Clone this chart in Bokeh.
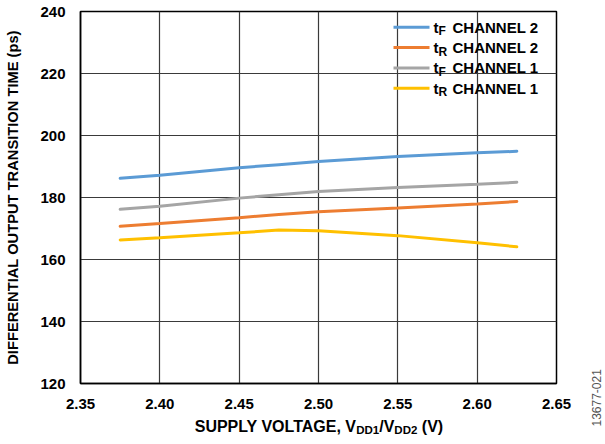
import math
from bokeh.plotting import figure
from bokeh.layouts import row, column
from bokeh.core.properties import value
from bokeh.models import Label, Range1d, FixedTicker, NumeralTickFormatter
from bokeh.embed import file_html
from bokeh.resources import INLINE

# ---------------- data ----------------
voltage = [2.375, 2.40, 2.45, 2.475, 2.50, 2.55, 2.60, 2.625]
tf_ch2 = [186.2, 187.2, 189.6, 190.6, 191.6, 193.2, 194.4, 194.9]
tr_ch2 = [170.7, 171.6, 173.5, 174.5, 175.4, 176.6, 177.9, 178.7]
tf_ch1 = [176.2, 177.2, 179.8, 180.9, 181.9, 183.2, 184.3, 184.9]
tr_ch1 = [166.3, 167.0, 168.6, 169.5, 169.3, 167.7, 165.4, 164.1]

x_ticks = [2.35, 2.40, 2.45, 2.50, 2.55, 2.60, 2.65]
y_ticks = [120, 140, 160, 180, 200, 220, 240]

series = [
    ("F", "CHANNEL 2", tf_ch2, "#5B9BD5"),
    ("R", "CHANNEL 2", tr_ch2, "#ED7D31"),
    ("F", "CHANNEL 1", tf_ch1, "#A5A5A5"),
    ("R", "CHANNEL 1", tr_ch1, "#FFC000"),
]

FONT = "Liberation Sans"
MAIN = 15
SUB = 12

# page geometry
PW, PH = 605, 444
SIDE_W = 17            # strip on the right for the figure id
STRIP_H = 32           # strip below for the x-axis title
MW, MH = PW - SIDE_W, PH - STRIP_H
FL, FR, FT, FB = 80, 556, 11, 383
X0, X1, Y0, Y1 = 2.35, 2.65, 120, 240


def px_x(px):
    return X0 + (px - FL) / (FR - FL) * (X1 - X0)


def px_y(py):
    return Y1 - (py - FT) / (FB - FT) * (Y1 - Y0)


# Arial/Liberation Sans Bold advance widths (em)
W = {"S": .667, "U": .722, "P": .667, "L": .611, "Y": .667, " ": .278, "V": .667,
     "O": .778, "T": .611, "A": .722, "G": .778, "E": .667, ",": .278, "D": .722,
     "1": .556, "2": .556, "/": .278, "(": .333, ")": .333}


def tw(s, size):
    return sum(W.get(c, .6) for c in s) * size


# ---------------- main chart ----------------
p = figure(width=MW, height=MH, output_backend="svg", toolbar_location=None,
           x_range=Range1d(X0, X1), y_range=Range1d(Y0, Y1),
           min_border_left=FL, min_border_right=MW - FR,
           min_border_top=FT, min_border_bottom=MH - FB)
p.background_fill_color = "white"
p.border_fill_color = "white"
p.outline_line_color = "black"
p.outline_line_width = 1.5

for ax in (p.xaxis[0], p.yaxis[0]):
    ax.major_tick_line_color = None
    ax.minor_tick_line_color = None
    ax.axis_line_color = "black"
    ax.axis_line_width = 1.5
    ax.major_label_text_font = FONT
    ax.major_label_text_font_style = "bold"
    ax.major_label_text_font_size = f"{MAIN}px"
    ax.major_label_text_color = "black"

p.xaxis.ticker = FixedTicker(ticks=x_ticks)
p.xaxis.formatter = NumeralTickFormatter(format="0.00")
p.xaxis.major_label_standoff = 9
p.yaxis.ticker = FixedTicker(ticks=y_ticks)
p.yaxis.major_label_standoff = 9

p.yaxis.axis_label = "DIFFERENTIAL OUTPUT TRANSITION TIME (ps)"
p.yaxis.axis_label_text_font = FONT
p.yaxis.axis_label_text_font_style = "bold"
p.yaxis.axis_label_text_font_size = "14.7px"
p.yaxis.axis_label_text_color = "black"
p.yaxis.axis_label_standoff = 16

p.xgrid.ticker = FixedTicker(ticks=x_ticks)
p.ygrid.ticker = FixedTicker(ticks=y_ticks)
for g in (p.xgrid[0], p.ygrid[0]):
    g.grid_line_color = "#3a3a3a"
    g.grid_line_width = 1.2

for sub, name, vals, col in series:
    p.line(voltage, vals, line_color=col, line_width=3, line_cap="round")


def add_text(px, py, text, size, dy=0):
    p.add_layout(Label(x=px_x(px), y=px_y(py), y_offset=dy, text=text,
                       text_font=FONT, text_font_style="bold",
                       text_font_size=f"{size}px", text_baseline="middle",
                       text_align="left", text_color="black"))


# legend (manual, for subscripts)
rows_py = [26.8, 47.1, 67.4, 87.7]
for (sub, name, vals, col), py in zip(series, rows_py):
    yy = px_y(py)
    p.segment(x0=[px_x(393)], y0=[yy], x1=[px_x(429)], y1=[yy],
              line_color=col, line_width=3)
    add_text(433, py, "t", MAIN)
    add_text(438, py, sub, SUB, dy=-4)
    add_text(452, py, name, MAIN)


def blank_fig(w, h, xr, yr):
    f = figure(width=w, height=h, output_backend="svg", toolbar_location=None,
               x_range=xr, y_range=yr,
               x_axis_type=None, y_axis_type=None, min_border=0)
    f.outline_line_color = None
    f.grid.visible = False
    f.background_fill_color = "white"
    f.border_fill_color = "white"
    return f


# ---------------- x-axis title strip (subscripts) ----------------
# the column aligns this strip's frame with the chart frame, so it shares the x range
TMAIN, TSUB = 16, 11.5
first = "SUPPLY VOLTAGE, V"
rest = [("DD1", TSUB, True, 0), ("/V", TMAIN, False, 0),
        ("DD2", TSUB, True, 0), ("(V)", TMAIN, False, tw(" ", TMAIN))]
total = tw(first, TMAIN) + sum(tw(t, s) + gap for t, s, _, gap in rest)
anchor = 316.5 - total / 2 + tw(first, TMAIN)
strip = blank_fig(MW, STRIP_H, Range1d(X0, X1), Range1d(0, STRIP_H))


def strip_text(xp, t, size, is_sub, align):
    yc = PH - (429.5 if is_sub else 425.8)
    strip.text(x=[px_x(xp)], y=[yc], text=[t], text_font=value(FONT),
               text_font_style="bold", text_font_size=value(f"{size}px"),
               text_align=align, text_baseline="middle", text_color="black")


strip_text(anchor, first, TMAIN, False, "right")
xpos = anchor
for t, s, is_sub, gap in rest:
    xpos += gap
    strip_text(xpos, t, s, is_sub, "left")
    xpos += tw(t, s)

# ---------------- figure id strip ----------------
side = blank_fig(SIDE_W, PH, Range1d(0, SIDE_W), Range1d(0, PH))
side.text(x=[596 - MW], y=[PH - 426], text=["13677-021"], angle=math.pi / 2,
          text_font=value(FONT), text_font_size=value("12px"),
          text_align="left", text_baseline="middle", text_color="#555555")

layout = row(column(p, strip, spacing=0), side, spacing=0)
open("out.html", "w").write(file_html(layout, INLINE))
